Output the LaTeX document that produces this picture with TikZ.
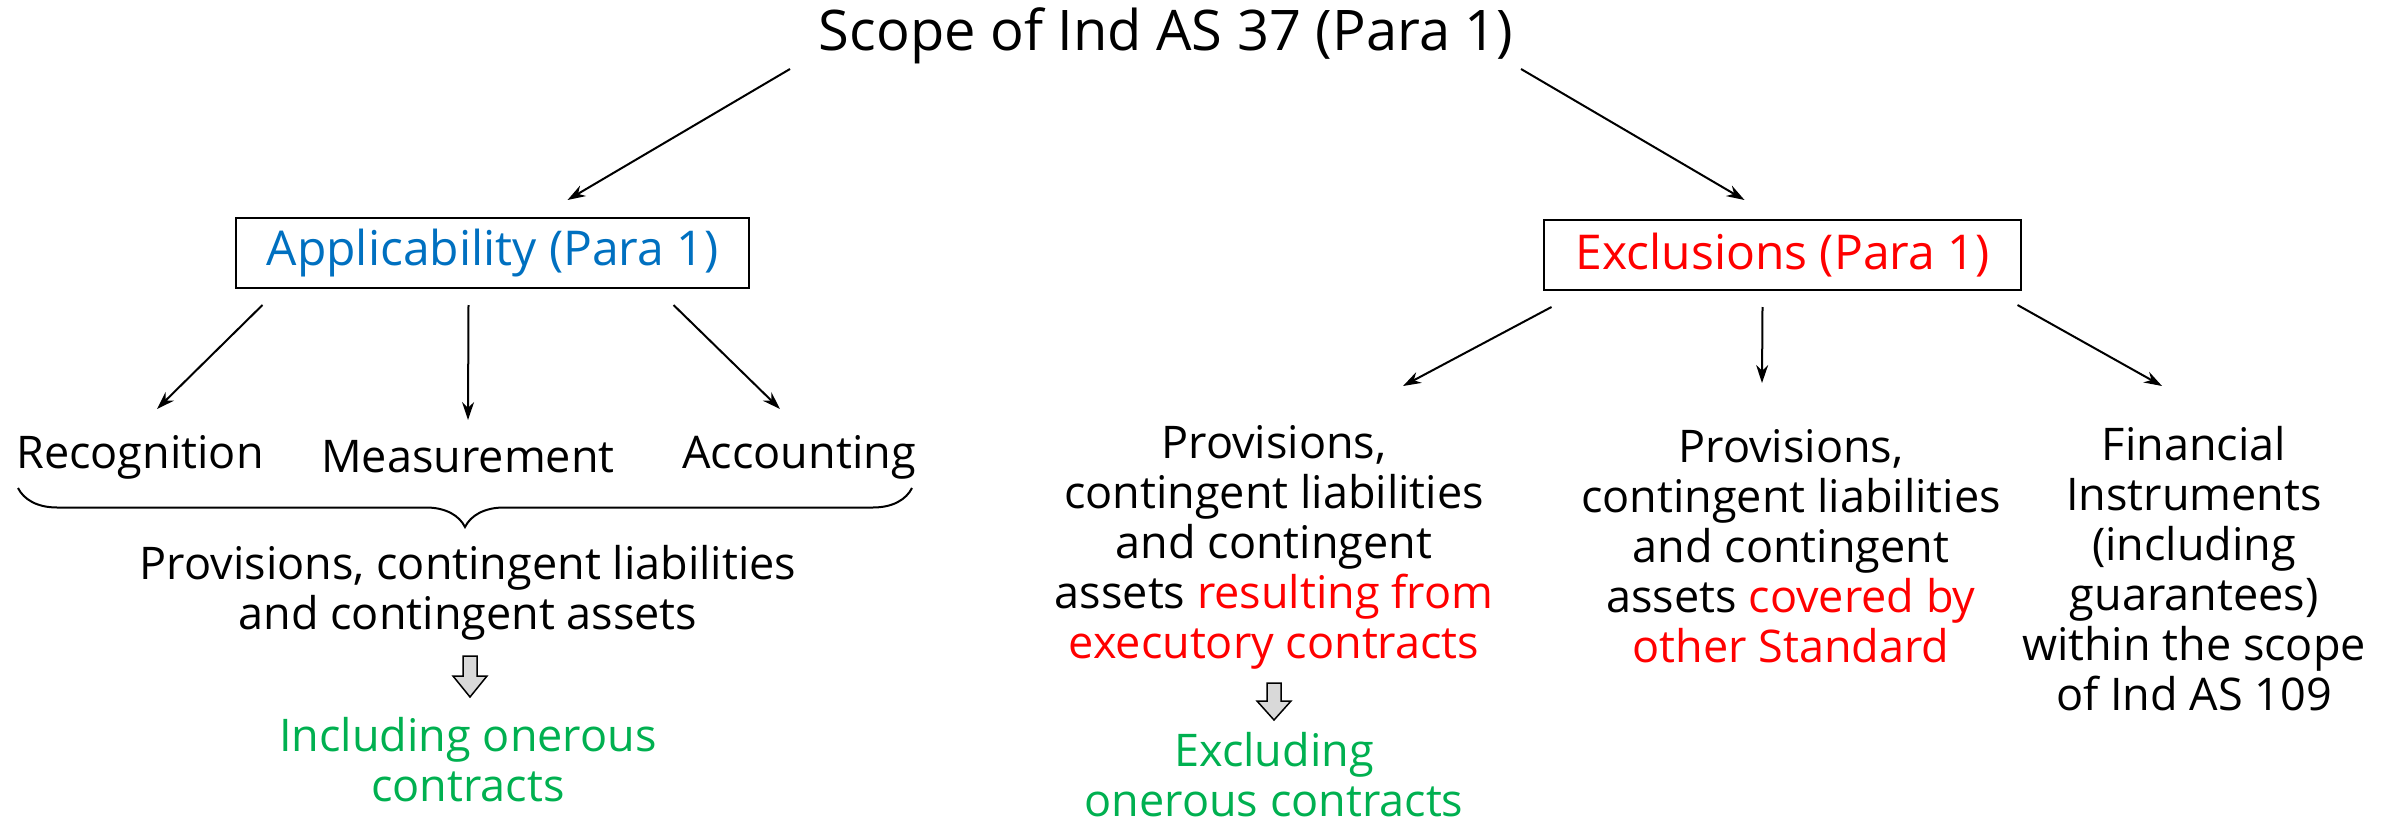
\documentclass[tikz,border=0pt]{standalone}
\usepackage{fontspec}
\setmainfont{Open Sans}
\usetikzlibrary{arrows.meta,decorations.pathreplacing}
\definecolor{appblue}{RGB}{0,112,192}
\definecolor{exred}{RGB}{255,0,0}
\definecolor{incgreen}{RGB}{0,176,80}
\definecolor{greyfill}{RGB}{217,217,217}
\tikzset{
  txt/.style={inner sep=0pt, align=center, font=\fontsize{45}{50}\selectfont},
  boxnode/.style={draw, line width=2pt, inner sep=0pt, minimum height=70pt, font=\fontsize{48}{50}\selectfont},
  arr/.style={line width=2pt, -{Stealth[length=18pt,width=12pt]}},
  greyarrow/.style={draw=black, line width=1.5pt, fill=greyfill},
}
\begin{document}
\begin{tikzpicture}[x=1pt,y=-1pt]
\useasboundingbox (0,0) rectangle (2392,824);
% title
\node[txt, font=\fontsize{56}{60}\selectfont] (title) at (1166,36) {Scope of Ind AS 37 (Para 1)};
% boxes
\node[boxnode, minimum width=513pt, text=appblue] (app) at (492.5,253) {Applicability (Para 1)};
\node[boxnode, minimum width=477pt, text=exred] (excl) at (1782.5,255) {Exclusions (Para 1)};
\draw[arr] ([shift={(-376,33)}]title.center) -- ([shift={(75,-53)}]app.center);
\draw[arr] ([shift={(355,33)}]title.center) -- ([shift={(-38,-55)}]excl.center);
% applicability children
\node[txt] (recog) at (140,457) {Recognition};
\node[txt] (meas) at (468,457) {Measurement};
\node[txt] (acct) at (799,457) {Accounting};
\draw[arr] ([shift={(-230,52)}]app.center) -- ([shift={(17,-48)}]recog.center);
\draw[arr] ([shift={(-24,52)}]app.center) -- ([shift={(0,-37)}]meas.center);
\draw[arr] ([shift={(181,52)}]app.center) -- ([shift={(-19,-48)}]acct.center);
\draw[line width=2pt, decorate, decoration={brace, amplitude=39pt}] (912,488) -- (18,488);
\node[txt] (prov) at (468,593) {Provisions, contingent liabilities\\and contingent assets};
\draw[greyarrow] (463,656) -- (477,656) -- (477,676) -- (487,676) -- (470,697) -- (453,676) -- (463,676) -- cycle;
\node[txt, text=incgreen] (incl) at (468,760) {Including onerous\\contracts};
% exclusion children
\node[txt] (col1) at (1274,547) {Provisions,\\contingent liabilities\\and contingent\\assets \textcolor{exred}{resulting from}\\\textcolor{exred}{executory contracts}};
\node[txt] (col2) at (1791,546) {Provisions,\\contingent liabilities\\and contingent\\assets \textcolor{exred}{covered by}\\\textcolor{exred}{other Standard}};
\node[txt] (col3) at (2194,569) {Financial\\Instruments\\(including\\guarantees)\\within the scope\\of Ind AS 109};
\draw[arr] ([shift={(-231,52)}]excl.center) -- ([shift={(129,-161)}]col1.center);
\draw[arr] ([shift={(-20,52)}]excl.center) -- ([shift={(-29,-163)}]col2.center);
\draw[arr] ([shift={(235,50)}]excl.center) -- ([shift={(-32,-183)}]col3.center);
\draw[greyarrow] (1267,683) -- (1281,683) -- (1281,701) -- (1291,701) -- (1274,720) -- (1257,701) -- (1267,701) -- cycle;
\node[txt, text=incgreen] (exon) at (1274,775) {Excluding\\onerous contracts};
\end{tikzpicture}
\end{document}
